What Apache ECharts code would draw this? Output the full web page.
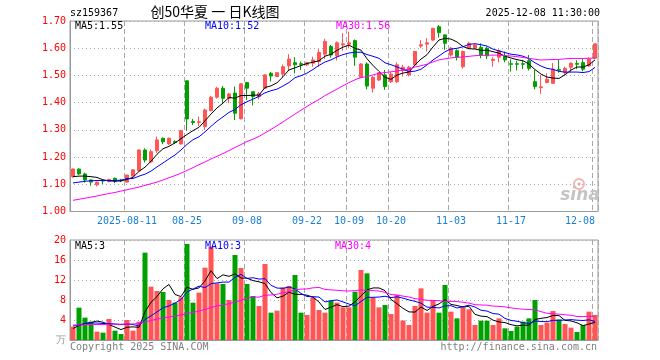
<!DOCTYPE html>
<html><head><meta charset="utf-8">
<script src="https://cdn.jsdelivr.net/npm/echarts@6/dist/echarts.min.js"></script>
<style>html,body{margin:0;padding:0;background:#fff}#c{width:660px;height:360px}</style>
</head><body><div id="c"></div>
<script>
const dates = [
'2025-07-29','2025-07-30','2025-07-31','2025-08-01','2025-08-04','2025-08-05','2025-08-06','2025-08-07','2025-08-08','2025-08-11',
'2025-08-12','2025-08-13','2025-08-14','2025-08-15','2025-08-18','2025-08-19','2025-08-20','2025-08-21','2025-08-22','2025-08-25',
'2025-08-26','2025-08-27','2025-08-28','2025-08-29','2025-09-01','2025-09-02','2025-09-03','2025-09-04','2025-09-05','2025-09-08',
'2025-09-09','2025-09-10','2025-09-11','2025-09-12','2025-09-15','2025-09-16','2025-09-17','2025-09-18','2025-09-19','2025-09-22',
'2025-09-23','2025-09-24','2025-09-25','2025-09-26','2025-09-29','2025-09-30','2025-10-09','2025-10-10','2025-10-13','2025-10-14',
'2025-10-15','2025-10-16','2025-10-17','2025-10-20','2025-10-21','2025-10-22','2025-10-23','2025-10-24','2025-10-27','2025-10-28',
'2025-10-29','2025-10-30','2025-10-31','2025-11-03','2025-11-04','2025-11-05','2025-11-06','2025-11-07','2025-11-10','2025-11-11',
'2025-11-12','2025-11-13','2025-11-14','2025-11-17','2025-11-18','2025-11-19','2025-11-20','2025-11-21','2025-11-24','2025-11-25',
'2025-11-26','2025-11-27','2025-12-01','2025-12-02','2025-12-03','2025-12-04','2025-12-05','2025-12-08'];

const labelDates = ['2025-08-11','2025-08-25','2025-09-08','2025-09-22','2025-10-09','2025-10-20','2025-11-03','2025-11-17','2025-12-08'];

const openP = [1.128,1.156,1.138,1.116,1.098,1.114,1.111,1.122,1.115,1.108,
1.130,1.150,1.226,1.182,1.223,1.269,1.248,1.257,1.248,1.480,
1.331,1.327,1.312,1.371,1.420,1.453,1.416,1.435,1.341,1.474,
1.440,1.422,1.453,1.508,1.496,1.505,1.535,1.547,1.543,1.539,
1.545,1.551,1.578,1.606,1.572,1.612,1.615,1.628,1.493,1.542,
1.453,1.483,1.502,1.477,1.477,1.518,1.502,1.539,1.608,1.615,
1.630,1.679,1.649,1.575,1.591,1.532,1.600,1.600,1.603,1.600,
1.555,1.567,1.572,1.543,1.543,1.543,1.554,1.477,1.455,1.474,
1.471,1.522,1.510,1.530,1.544,1.547,1.535,1.563];

const closeP = [1.156,1.138,1.116,1.108,1.108,1.112,1.118,1.111,1.113,1.134,
1.153,1.226,1.189,1.220,1.263,1.256,1.269,1.253,1.297,1.340,
1.327,1.330,1.373,1.420,1.453,1.416,1.432,1.361,1.469,1.453,
1.422,1.433,1.502,1.498,1.510,1.532,1.560,1.539,1.541,1.547,
1.557,1.584,1.625,1.575,1.620,1.616,1.620,1.567,1.542,1.461,
1.493,1.510,1.459,1.505,1.539,1.530,1.530,1.588,1.613,1.620,
1.673,1.657,1.618,1.600,1.567,1.588,1.618,1.612,1.575,1.572,
1.559,1.591,1.557,1.541,1.541,1.541,1.526,1.459,1.458,1.486,
1.523,1.519,1.526,1.545,1.541,1.523,1.560,1.616];

const lowP = [1.124,1.134,1.106,1.095,1.092,1.101,1.107,1.104,1.108,1.106,
1.128,1.148,1.180,1.178,1.215,1.247,1.245,1.248,1.246,1.297,
1.318,1.314,1.300,1.368,1.415,1.398,1.398,1.336,1.338,1.410,
1.390,1.412,1.450,1.478,1.494,1.494,1.520,1.508,1.520,1.535,
1.532,1.532,1.560,1.565,1.555,1.590,1.600,1.535,1.490,1.449,
1.437,1.480,1.447,1.472,1.472,1.496,1.496,1.535,1.600,1.588,
1.627,1.639,1.594,1.569,1.555,1.525,1.596,1.596,1.563,1.560,
1.532,1.548,1.548,1.514,1.518,1.523,1.518,1.449,1.432,1.471,
1.469,1.510,1.500,1.510,1.523,1.515,1.532,1.560];

const highP = [1.158,1.158,1.143,1.118,1.110,1.118,1.120,1.125,1.120,1.135,
1.155,1.228,1.232,1.228,1.275,1.272,1.272,1.262,1.300,1.482,
1.340,1.349,1.378,1.425,1.458,1.461,1.436,1.459,1.472,1.476,
1.442,1.440,1.505,1.513,1.513,1.540,1.578,1.567,1.551,1.550,
1.569,1.596,1.635,1.612,1.625,1.655,1.661,1.632,1.545,1.548,
1.498,1.512,1.520,1.512,1.548,1.539,1.535,1.590,1.630,1.637,
1.675,1.685,1.649,1.605,1.596,1.592,1.624,1.615,1.618,1.606,
1.567,1.596,1.588,1.559,1.554,1.554,1.575,1.520,1.502,1.508,
1.546,1.560,1.532,1.548,1.556,1.560,1.566,1.617];

const volume = [2.67,6.47,4.47,3.67,1.67,1.47,4.2,1.87,1.2,4.0,
1.87,3.67,17.47,10.67,9.8,9.6,8.0,7.47,8.53,19.2,
7.47,9.47,14.47,18.67,11.33,11.2,8.0,17.0,14.4,11.2,
8.8,6.8,15.2,5.47,5.87,10.53,10.8,13.0,5.47,5.0,
8.53,6.0,5.47,7.87,7.47,6.53,6.53,9.67,14.0,13.33,
8.53,6.53,7.0,5.2,9.0,3.9,3.0,6.8,10.33,5.47,
8.0,5.47,11.0,5.67,4.33,6.53,6.13,3.0,3.87,3.87,
3.0,4.33,2.33,1.8,2.67,3.67,4.33,8.0,3.0,3.47,
5.8,4.13,3.2,2.47,1.6,3.0,5.67,5.0];

const ma5Head = [1.128,1.130,1.130,1.128];
const ma10Head = [1.105,1.108,1.111,1.113,1.114,1.114,1.114,1.114,1.115];
const ma30Head = [1.041,1.045,1.049,1.053,1.057,1.062,1.066,1.070,1.075,1.080,1.085,1.090,1.096,1.102,1.108,1.116,1.124,1.132,1.141,1.151,1.161,1.172,1.182,1.193,1.203,1.213,1.224,1.235,1.246];
const vma5Head = [2.3,2.9,3.3,3.5];
const vma10Head = [2.8,3.0,3.3,3.4,3.4,3.3,3.3,3.2,3.1];
const vma30Head = [3.0,3.0,3.05,3.1,3.1,3.1,3.15,3.15,3.15,3.2,3.2,3.3,3.6,3.9,4.2,4.4,4.6,4.8,5.0,5.3,5.5,5.8,6.1,6.5,6.8,7.0,7.3,7.6,7.9];

const priceTicks = [1.0,1.1,1.2,1.3,1.4,1.5,1.6,1.7];
const volTicks = [0,4,8,12,16,20];

const legendPrice = ['MA5:1.55','MA10:1.52','MA30:1.56'];
const legendVol = ['MA5:3','MA10:3','MA30:4'];

function movingAvg(src, n, head){
  return src.map((_, i) => {
    if (i < n - 1) return head[i];
    let s = 0; for (let k = i - n + 1; k <= i; k++) s += src[k];
    return +(s / n).toFixed(4);
  });
}

const RED = '#ff5555', GREEN = '#00a000';
const MONO = '"DejaVu Sans Mono", monospace';
const labelIdx = labelDates.map(d => dates.indexOf(d));

const kData = dates.map((d, i) => [openP[i], closeP[i], lowP[i], highP[i]]);
const volData = volume.map((v, i) => ({value: v, itemStyle: {color: closeP[i] >= openP[i] ? RED : GREEN}}));

const chart = echarts.init(document.getElementById('c'), null, {renderer: 'canvas'});
const splitX = {show: true, interval: (i) => labelIdx.includes(i), lineStyle: {color: '#a8a8a8', type: [5, 3], width: 1}};
const gridBase = {left: 70, right: 62, show: true, borderColor: '#999', borderWidth: 1, backgroundColor: '#fff'};

chart.setOption({
  animation: false,
  backgroundColor: '#fff',
  grid: [
    Object.assign({top: 21, height: 190.5}, gridBase),
    Object.assign({top: 240, height: 100}, gridBase)
  ],
  xAxis: [
    {type: 'category', data: dates, gridIndex: 0, boundaryGap: true,
     axisLine: {show: true, lineStyle: {color: '#999'}}, axisTick: {show: false},
     axisLabel: {interval: (i) => labelIdx.includes(i), color: '#1a7fd4', fontFamily: MONO, fontSize: 10, margin: 5,
       alignMaxLabel: 'right',
       formatter: (v, i) => (dates.indexOf(v) === labelIdx[0] ? v : v.slice(5))},
     splitLine: splitX},
    {type: 'category', data: dates, gridIndex: 1, boundaryGap: true,
     axisLine: {show: true, lineStyle: {color: '#999'}}, axisTick: {show: false},
     axisLabel: {show: false}, splitLine: splitX}
  ],
  yAxis: [
    {type: 'value', gridIndex: 0, min: priceTicks[0], max: priceTicks[priceTicks.length - 1], interval: 0.1,
     axisLine: {show: true, lineStyle: {color: '#999'}}, axisTick: {show: false},
     axisLabel: {color: '#ff0000', fontFamily: MONO, fontSize: 10, margin: 4, formatter: v => v.toFixed(2)},
     splitLine: {show: true, lineStyle: {color: '#aaa', type: [1, 3]}}},
    {type: 'value', gridIndex: 1, min: volTicks[0], max: volTicks[volTicks.length - 1], interval: 4,
     axisLine: {show: true, lineStyle: {color: '#999'}}, axisTick: {show: false},
     axisLabel: {fontFamily: MONO, fontSize: 10, margin: 4,
       color: (v) => (+v === 0 ? '#999' : '#ff0000'),
       formatter: v => (v === 0 ? '万' : String(v))},
     splitLine: {show: true, lineStyle: {color: '#aaa', type: [1, 3]}}}
  ],
  series: [
    {type: 'candlestick', xAxisIndex: 0, yAxisIndex: 0, data: kData, barWidth: 4,
     itemStyle: {color: RED, color0: GREEN, borderColor: RED, borderColor0: GREEN, borderWidth: 1}},
    {type: 'line', xAxisIndex: 0, yAxisIndex: 0, data: movingAvg(closeP, 5, ma5Head), symbol: 'none', lineStyle: {color: '#000', width: 1}},
    {type: 'line', xAxisIndex: 0, yAxisIndex: 0, data: movingAvg(closeP, 10, ma10Head), symbol: 'none', lineStyle: {color: '#0000ff', width: 1}},
    {type: 'line', xAxisIndex: 0, yAxisIndex: 0, data: movingAvg(closeP, 30, ma30Head), symbol: 'none', lineStyle: {color: '#ff00ff', width: 1}},
    {type: 'bar', xAxisIndex: 1, yAxisIndex: 1, data: volData, barWidth: 5},
    {type: 'line', xAxisIndex: 1, yAxisIndex: 1, data: movingAvg(volume, 5, vma5Head), symbol: 'none', lineStyle: {color: '#000', width: 1}},
    {type: 'line', xAxisIndex: 1, yAxisIndex: 1, data: movingAvg(volume, 10, vma10Head), symbol: 'none', lineStyle: {color: '#0000ff', width: 1}},
    {type: 'line', xAxisIndex: 1, yAxisIndex: 1, data: movingAvg(volume, 30, vma30Head), symbol: 'none', lineStyle: {color: '#ff00ff', width: 1}}
  ],
  graphic: [
    {type: 'text', style: {text: 'sz159367', x: 70, y: 13, fill: '#000', font: '10px ' + MONO, verticalAlign: 'middle'}},
    {type: 'text', style: {text: '创50华夏 一 日K线图', x: 215, y: 12, fill: '#000', font: '14px "Noto Sans CJK SC"', align: 'center', verticalAlign: 'middle'}},
    {type: 'text', style: {text: '2025-12-08 11:30:00', x: 600, y: 13, fill: '#000', font: '10px ' + MONO, align: 'right', verticalAlign: 'middle'}},
    {type: 'text', z: 100, style: {text: legendPrice[0], x: 75, y: 26, fill: '#000', font: '10px ' + MONO, verticalAlign: 'middle'}},
    {type: 'text', z: 100, style: {text: legendPrice[1], x: 205, y: 26, fill: '#0000ff', font: '10px ' + MONO, verticalAlign: 'middle'}},
    {type: 'text', z: 100, style: {text: legendPrice[2], x: 336, y: 26, fill: '#ff00ff', font: '10px ' + MONO, verticalAlign: 'middle'}},
    {type: 'text', z: 100, style: {text: legendVol[0], x: 75, y: 246, fill: '#000', font: '10px ' + MONO, verticalAlign: 'middle'}},
    {type: 'text', z: 100, style: {text: legendVol[1], x: 205, y: 246, fill: '#0000ff', font: '10px ' + MONO, verticalAlign: 'middle'}},
    {type: 'text', z: 100, style: {text: legendVol[2], x: 335, y: 246, fill: '#ff00ff', font: '10px ' + MONO, verticalAlign: 'middle'}},
    {type: 'text', style: {text: 'Copyright 2025 SINA.COM', x: 70, y: 347, fill: '#808080', font: '10px ' + MONO, verticalAlign: 'middle'}},
    {type: 'text', style: {text: 'http://finance.sina.com.cn', x: 597, y: 347, fill: '#808080', font: '10px ' + MONO, align: 'right', verticalAlign: 'middle'}},
    {type: 'circle', z: 1, shape: {cx: 579, cy: 184, r: 5}, style: {fill: 'none', stroke: '#f3b4b4', lineWidth: 2}},
    {type: 'circle', z: 1, shape: {cx: 579, cy: 184, r: 1.5}, style: {fill: '#e8a0a0'}},
    {type: 'text', z: 1, style: {text: 'sina', x: 580, y: 196, fill: '#c4c4c4', font: 'italic bold 17px "DejaVu Sans"', align: 'center', verticalAlign: 'middle'}}
  ]
});
</script>
</body></html>
